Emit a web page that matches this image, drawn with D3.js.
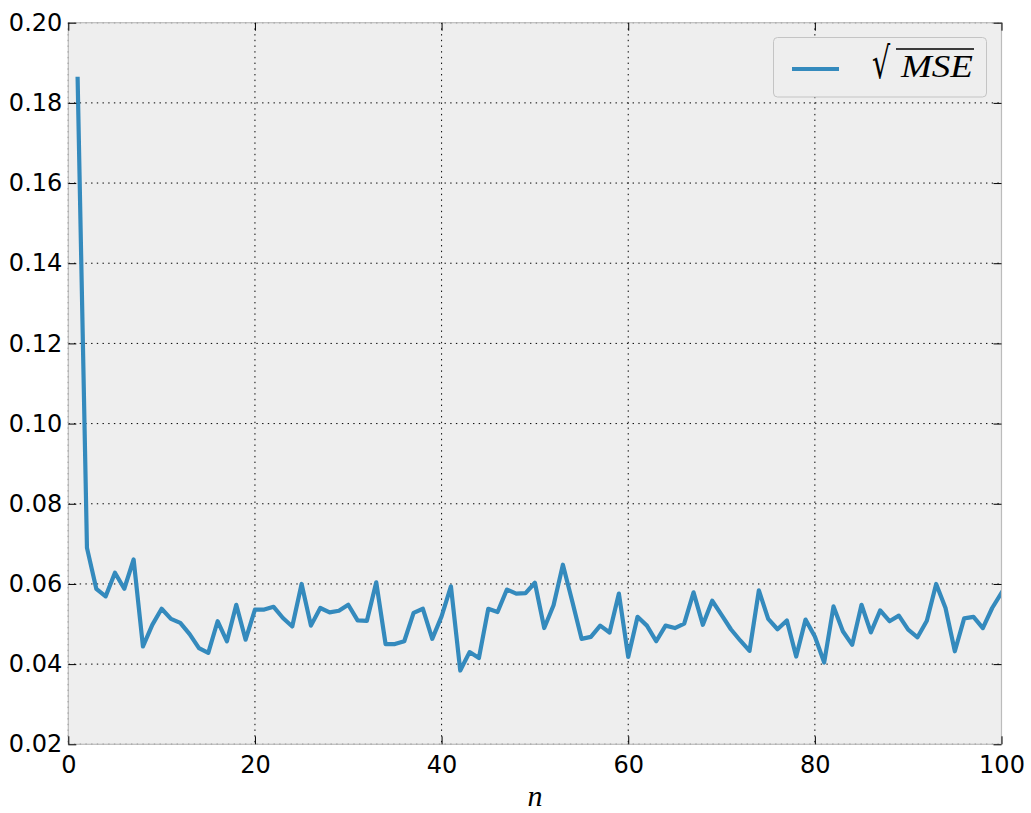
<!DOCTYPE html>
<html>
<head>
<meta charset="utf-8">
<script src="https://cdn.jsdelivr.net/npm/d3@7"></script>
<style>
  html, body { margin: 0; padding: 0; background: #ffffff; }
  svg { display: block; }
</style>
</head>
<body>
<svg id="chart" width="1031" height="813"></svg>
<script>
// ---- data ----
const nValues = d3.range(1, 101);
const rmseValues = [
  0.186, 0.069, 0.0588, 0.0569, 0.0628, 0.0588, 0.0661, 0.0444, 0.0498, 0.0538,
  0.0513, 0.0503, 0.0475, 0.0440, 0.0428, 0.0507, 0.0457, 0.0548, 0.0461, 0.0536,
  0.0536, 0.0543, 0.0515, 0.0494, 0.0600, 0.0496, 0.0540, 0.0529, 0.0533, 0.0548,
  0.0509, 0.0508, 0.0604, 0.0450, 0.0450, 0.0457, 0.0528, 0.0538, 0.0463, 0.0519,
  0.0594, 0.0384, 0.0430, 0.0415, 0.0538, 0.0530, 0.0586, 0.0576, 0.0577, 0.0603,
  0.0490, 0.0547, 0.0648, 0.0557, 0.0463, 0.0468, 0.0496, 0.0479, 0.0576, 0.0418,
  0.0518, 0.0496, 0.0457, 0.0496, 0.0490, 0.0501, 0.0579, 0.0498, 0.0558, 0.0523,
  0.0487, 0.0459, 0.0433, 0.0584, 0.0513, 0.0487, 0.0509, 0.0419, 0.0511, 0.0469,
  0.0404, 0.0544, 0.0482, 0.0448, 0.0548, 0.0479, 0.0534, 0.0507, 0.0521, 0.0486,
  0.0467, 0.0508, 0.0600, 0.0540, 0.0432, 0.0514, 0.0518, 0.0490, 0.0540, 0.0578
];
const xTicks = [0, 20, 40, 60, 80, 100];
const yTicks = [0.02, 0.04, 0.06, 0.08, 0.10, 0.12, 0.14, 0.16, 0.18, 0.20];
const xDomain = [0, 100];
const yDomain = [0.02, 0.20];
const seriesLabel = "MSE";
const xLabel = "n";

// ---- layout ----
const svg = d3.select("#chart");
const pLeft = 68.3, pRight = 1001.5, pTop = 22.7, pBottom = 744.3;
const x = d3.scaleLinear().domain(xDomain).range([pLeft, pRight]);
const y = d3.scaleLinear().domain(yDomain).range([pBottom, pTop]);
const blue = "#348ABD";
const tickFont = "'DejaVu Sans', sans-serif";
const mathFont = "'Liberation Serif', 'DejaVu Serif', serif";

// axes background
svg.append("rect")
  .attr("x", pLeft).attr("y", pTop)
  .attr("width", pRight - pLeft).attr("height", pBottom - pTop)
  .attr("fill", "#eeeeee");

// grid
const grid = svg.append("g").attr("stroke", "#000").attr("stroke-width", 1)
  .attr("stroke-dasharray", "1.4,4.3").attr("fill", "none");
grid.selectAll("line.gx").data(xTicks).enter().append("line")
  .attr("x1", d => x(d)).attr("x2", d => x(d)).attr("y1", pTop).attr("y2", pBottom);
grid.selectAll("line.gy").data(yTicks).enter().append("line")
  .attr("x1", pLeft).attr("x2", pRight).attr("y1", d => y(d)).attr("y2", d => y(d));

// clip
svg.append("clipPath").attr("id", "clip").append("rect")
  .attr("x", pLeft).attr("y", pTop).attr("width", pRight - pLeft).attr("height", pBottom - pTop);

// line
const data = nValues.map((n, i) => ({ n, v: rmseValues[i] }));
svg.append("path")
  .datum(data)
  .attr("clip-path", "url(#clip)")
  .attr("fill", "none")
  .attr("stroke", blue)
  .attr("stroke-width", 4.2)
  .attr("stroke-linejoin", "round")
  .attr("stroke-linecap", "square")
  .attr("d", d3.line().x(d => x(d.n)).y(d => y(d.v)));

// spines
svg.append("rect")
  .attr("x", pLeft).attr("y", pTop)
  .attr("width", pRight - pLeft).attr("height", pBottom - pTop)
  .attr("fill", "none").attr("stroke", "#bcbcbc").attr("stroke-width", 1.2);

// axes (ticks inside, on all four sides)
const tickLen = 8;
const axB = svg.append("g").attr("transform", `translate(0,${pBottom})`)
  .call(d3.axisBottom(x).tickValues(xTicks).tickFormat(d3.format("d")).tickSizeInner(-tickLen).tickSizeOuter(0).tickPadding(12));
const axT = svg.append("g").attr("transform", `translate(0,${pTop})`)
  .call(d3.axisTop(x).tickValues(xTicks).tickFormat("").tickSizeInner(-tickLen).tickSizeOuter(0));
const axL = svg.append("g").attr("transform", `translate(${pLeft},0)`)
  .call(d3.axisLeft(y).tickValues(yTicks).tickFormat(d3.format(".2f")).tickSizeInner(-tickLen).tickSizeOuter(0).tickPadding(6));
const axR = svg.append("g").attr("transform", `translate(${pRight},0)`)
  .call(d3.axisRight(y).tickValues(yTicks).tickFormat("").tickSizeInner(-tickLen).tickSizeOuter(0));
[axB, axT, axL, axR].forEach(g => {
  g.select(".domain").remove();
  g.selectAll(".tick line").attr("stroke", "#000").attr("stroke-width", 1);
  g.selectAll("text").attr("fill", "#000").attr("font-family", tickFont).attr("font-size", 24);
});
axB.selectAll("text").attr("dy", "0.71em");

// x label
svg.append("text")
  .attr("x", (pLeft + pRight) / 2).attr("y", 806)
  .attr("text-anchor", "middle")
  .attr("font-family", mathFont).attr("font-style", "italic")
  .attr("font-size", 30).attr("fill", "#000")
  .text(xLabel);

// legend
const lg = svg.append("g");
lg.append("rect")
  .attr("x", 773.5).attr("y", 37.5).attr("width", 213).attr("height", 59.5)
  .attr("rx", 4).attr("ry", 4)
  .attr("fill", "#eeeeee").attr("stroke", "#c4c4c4").attr("stroke-width", 1);
lg.append("line")
  .attr("x1", 792).attr("x2", 839).attr("y1", 69).attr("y2", 69)
  .attr("stroke", blue).attr("stroke-width", 4);
lg.append("text")
  .attr("transform", "translate(872,78) scale(0.95,1.45)")
  .attr("font-family", "'DejaVu Serif', serif")
  .attr("font-size", 30).attr("fill", "#000")
  .text("\u221A");
lg.append("text")
  .attr("x", 901).attr("y", 77)
  .attr("font-family", mathFont).attr("font-style", "italic")
  .attr("font-size", 31).attr("fill", "#000")
  .attr("textLength", 72).attr("lengthAdjust", "spacingAndGlyphs")
  .text(seriesLabel);
lg.append("line")
  .attr("x1", 896).attr("x2", 974).attr("y1", 49).attr("y2", 49)
  .attr("stroke", "#000").attr("stroke-width", 1.3);
</script>
</body>
</html>
